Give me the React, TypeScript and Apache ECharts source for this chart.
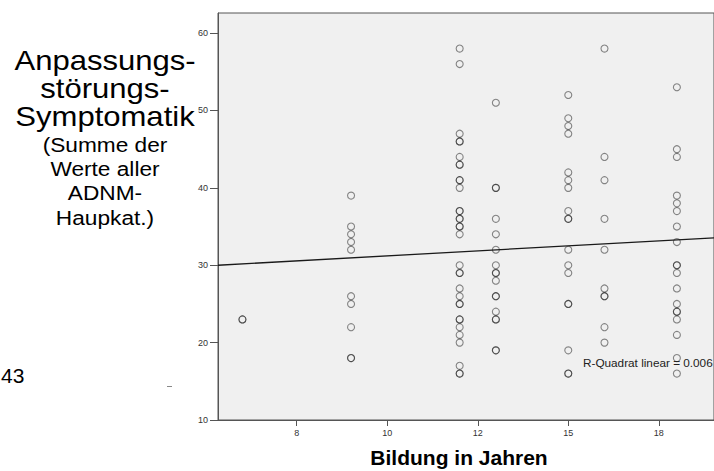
import React, { useEffect, useRef } from "react";
import * as echarts from "echarts";

// Axis ticks (x axis is drawn in evenly spaced tick units, labelled as in the source)
const xTickLabels = ["8", "10", "12", "15", "18"];
const xTickPositions = [0, 1, 2, 3, 4];
const yTicks = [10, 20, 30, 40, 50, 60];

// Column positions (in tick units) of the seven education groups
const groupPositions = [-0.6, 0.6, 1.8, 2.2, 3.0, 3.4, 4.2];

// Symptom sums per group (duplicates drawn twice)
const groupA = [23, 23];
const groupB = [39, 35, 34, 33, 32, 26, 25, 22, 18, 18];
const groupC = [58, 56, 47, 46, 46, 44, 43, 43, 41, 41, 40, 37, 37, 36, 36, 35, 35, 34, 30, 29, 29, 27, 26, 25, 25, 23, 23, 22, 21, 20, 17, 16, 16];
const groupD = [51, 40, 40, 36, 34, 32, 30, 29, 29, 28, 26, 26, 24, 23, 23, 19, 19];
const groupE = [52, 49, 48, 47, 42, 41, 40, 37, 36, 36, 32, 30, 29, 25, 25, 19, 16, 16];
const groupF = [58, 44, 41, 36, 32, 27, 26, 26, 22, 20];
const groupG = [53, 45, 44, 39, 38, 37, 35, 33, 30, 30, 29, 27, 25, 24, 24, 23, 21, 18, 16];

// Linear fit line (value at left and right edge of the plot)
const fitLineX = [-0.87, 4.61];
const fitLineY = [30.0, 33.55];
const rSquaredLabel = "R-Quadrat linear = 0.006";

const yTitleLines = ["Anpassungs-", "störungs-", "Symptomatik"];
const ySubtitleLines = ["(Summe der", "Werte aller", "ADNM-", "Haupkat.)"];
const xTitle = "Bildung in Jahren";
const pageNumber = "43";

const FONT = "'Liberation Sans', Arial, Helvetica, sans-serif";

export default function App() {
  const ref = useRef<HTMLDivElement>(null);

  useEffect(() => {
    if (!ref.current) return;
    const chart = echarts.init(ref.current, undefined, { renderer: "svg" });

    const groups = [groupA, groupB, groupC, groupD, groupE, groupF, groupG];
    const points: number[][] = [];
    groups.forEach((g, i) => g.forEach((v) => points.push([groupPositions[i], v])));

    const bigY = [61, 89, 117];
    const smallY = [144.5, 168.5, 193, 217.5];

    const graphics: any[] = [];
    yTitleLines.forEach((t, i) =>
      graphics.push({
        type: "text",
        x: 105,
        y: bigY[i],
        scaleX: 1.15,
        style: { text: t, font: `27px ${FONT}`, fill: "#000", textAlign: "center", textVerticalAlign: "middle" },
      })
    );
    ySubtitleLines.forEach((t, i) =>
      graphics.push({
        type: "text",
        x: 105,
        y: smallY[i],
        scaleX: 1.08,
        style: { text: t, font: `21px ${FONT}`, fill: "#000", textAlign: "center", textVerticalAlign: "middle" },
      })
    );
    graphics.push({
      type: "text",
      x: 459,
      y: 457,
      style: { text: xTitle, font: `bold 21px ${FONT}`, fill: "#000", textAlign: "center", textVerticalAlign: "middle" },
    });
    graphics.push({
      type: "text",
      x: 1,
      y: 376,
      scaleX: 1.05,
      style: { text: pageNumber, font: `20px ${FONT}`, fill: "#000", textAlign: "left", textVerticalAlign: "middle" },
    });
    graphics.push({
      type: "line",
      shape: { x1: 167, y1: 386.5, x2: 172, y2: 386.5 },
      style: { stroke: "#888", lineWidth: 1 },
    });
    graphics.push({
      type: "text",
      x: 583,
      y: 363,
      z: 10,
      scaleX: 1.07,
      style: { text: rSquaredLabel, font: `11px ${FONT}`, fill: "#222", textAlign: "left", textVerticalAlign: "middle" },
    });

    chart.setOption({
      animation: false,
      backgroundColor: "#fff",
      grid: {
        left: 218,
        top: 13,
        right: -1,
        bottom: 51,
        show: true,
        backgroundColor: "#f0f0f0",
        borderColor: "#555",
        borderWidth: 1,
      },
      xAxis: {
        type: "value",
        min: fitLineX[0],
        max: fitLineX[1],
        axisLine: { show: true, onZero: false, lineStyle: { color: "#555", width: 1 } },
        axisTick: { show: true, length: 6, customValues: xTickPositions, lineStyle: { color: "#555" } },
        axisLabel: {
          customValues: xTickPositions,
          formatter: (v: number) => xTickLabels[Math.round(v)] ?? "",
          fontSize: 9,
          fontFamily: FONT,
          color: "#333",
          margin: 8,
        },
        splitLine: { show: false },
      },
      yAxis: {
        type: "value",
        min: 10,
        max: 62.6,
        axisLine: { show: true, onZero: false, lineStyle: { color: "#555", width: 1 } },
        axisTick: { show: true, length: 8, customValues: yTicks, lineStyle: { color: "#555" } },
        axisLabel: {
          customValues: yTicks,
          fontSize: 9,
          fontFamily: FONT,
          color: "#333",
          margin: 10,
        },
        splitLine: { show: false },
      },
      series: [
        {
          type: "scatter",
          data: points,
          symbol: "circle",
          symbolSize: 7,
          itemStyle: { color: "rgba(0,0,0,0)", borderColor: "rgba(20,20,20,0.62)", borderWidth: 1.1 },
          silent: true,
        },
        {
          type: "line",
          data: [
            [fitLineX[0], fitLineY[0]],
            [fitLineX[1], fitLineY[1]],
          ],
          showSymbol: false,
          lineStyle: { color: "#1a1a1a", width: 1.3 },
          silent: true,
        },
      ],
      graphic: graphics,
    });

    return () => chart.dispose();
  }, []);

  return <div ref={ref} style={{ width: 714, height: 471, position: "fixed", left: 0, top: 0 }} />;
}
